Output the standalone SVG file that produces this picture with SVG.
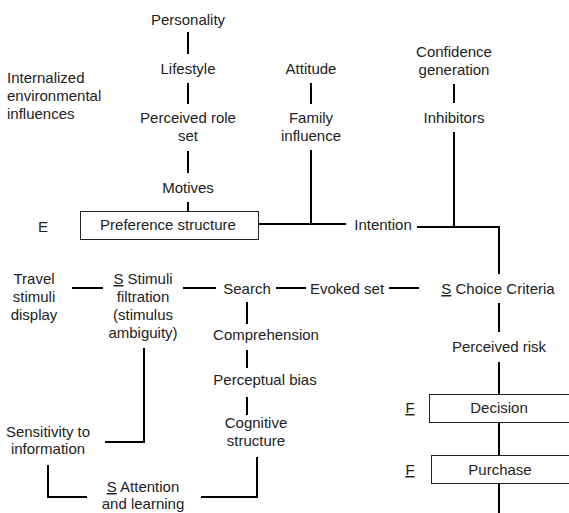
<svg xmlns="http://www.w3.org/2000/svg" width="569" height="513" viewBox="0 0 569 513">
<style>
text{font-family:"Liberation Sans",Arial,sans-serif;font-size:15px;fill:#222;text-anchor:middle}
.l{text-anchor:start}
.c{stroke:#000;stroke-width:2;fill:none}
.box{fill:#fff;stroke:#222;stroke-width:1}
.u{text-decoration:underline}
</style>
<rect width="569" height="513" fill="#fff"/>
<g id="connectors">
<path class="c" d="M188 32V54M188 83V104M188 151V173M188 202V211"/>
<path class="c" d="M311 83V104M311 150V224M259 224H346"/>
<path class="c" d="M454 84V103M454 132V227M417 227H499V274"/>
<path class="c" d="M72 288H103M183 288H216M276 288H306M389 288H419"/>
<path class="c" d="M499 303V332M499 362V394M499 423V456M499 484V513"/>
<path class="c" d="M247 302V324M247 350V368M247 397V415"/>
<path class="c" d="M144 348V442H105M48 465V497H87M201 497H257V457"/>
</g>
<g id="n-personality"><text x="188" y="25">Personality</text></g>
<g id="n-lifestyle"><text x="188" y="74">Lifestyle</text></g>
<g id="n-role"><text x="188" y="123">Perceived role</text><text x="188" y="141">set</text></g>
<g id="n-motives"><text x="188" y="193">Motives</text></g>
<g id="n-internal"><text class="l" x="7" y="83">Internalized</text><text class="l" x="7" y="101">environmental</text><text class="l" x="7" y="119">influences</text></g>
<g id="n-attitude"><text x="311" y="74">Attitude</text></g>
<g id="n-family"><text x="311" y="123">Family</text><text x="311" y="141">influence</text></g>
<g id="n-confidence"><text x="454" y="57">Confidence</text><text x="454" y="75">generation</text></g>
<g id="n-inhibitors"><text x="454" y="123">Inhibitors</text></g>
<g id="n-e"><text x="43" y="232">E</text></g>
<g id="n-preference"><rect class="box" x="80.5" y="211.5" width="178" height="28"/><text x="168" y="230">Preference structure</text></g>
<g id="n-intention"><text x="383" y="230">Intention</text></g>
<g id="n-travel"><text x="34" y="284">Travel</text><text x="34" y="302">stimuli</text><text x="34" y="320">display</text></g>
<g id="n-stimuli"><text x="143" y="284"><tspan class="u">S</tspan> Stimuli</text><text x="143" y="302">filtration</text><text x="143" y="320">(stimulus</text><text x="143" y="338">ambiguity)</text></g>
<g id="n-search"><text x="247" y="294">Search</text></g>
<g id="n-evoked"><text x="347" y="294">Evoked set</text></g>
<g id="n-choice"><text x="498" y="294"><tspan class="u">S</tspan> Choice Criteria</text></g>
<g id="n-comprehension"><text x="266" y="340">Comprehension</text></g>
<g id="n-bias"><text x="265" y="385">Perceptual bias</text></g>
<g id="n-cognitive"><text x="256" y="428">Cognitive</text><text x="256" y="446">structure</text></g>
<g id="n-sensitivity"><text x="48" y="437">Sensitivity to</text><text x="48" y="454">information</text></g>
<g id="n-attention"><text x="143" y="492"><tspan class="u">S</tspan> Attention</text><text x="143" y="509">and learning</text></g>
<g id="n-risk"><text x="499" y="352">Perceived risk</text></g>
<g id="n-decision"><text x="410" y="413"><tspan class="u">F</tspan></text><rect class="box" x="429.5" y="394.5" width="141" height="28"/><text x="499" y="413">Decision</text></g>
<g id="n-purchase"><text x="410" y="475"><tspan class="u">F</tspan></text><rect class="box" x="431.5" y="455.5" width="139" height="28"/><text x="500" y="475">Purchase</text></g>
</svg>
